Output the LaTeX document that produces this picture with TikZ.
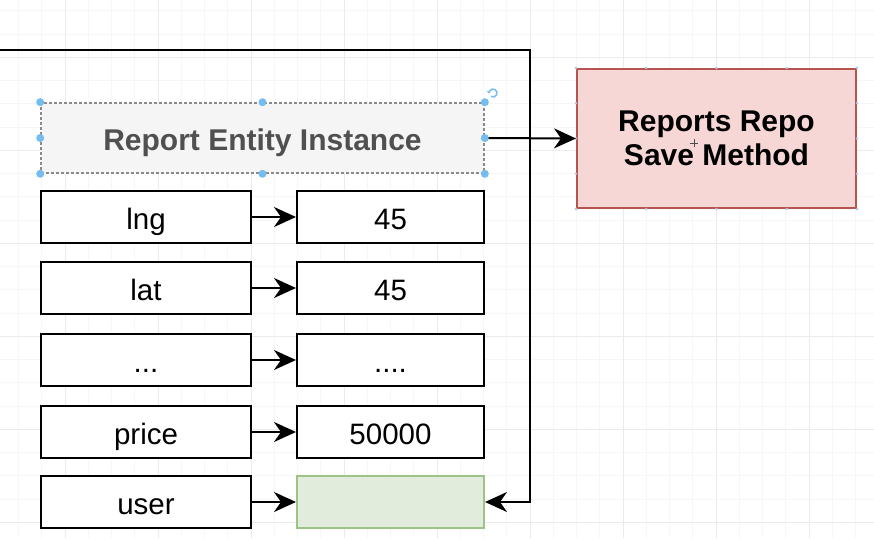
\documentclass[tikz,border=0pt]{standalone}
\usepackage{fontspec}
\setmainfont{Liberation Sans}
\usetikzlibrary{arrows.meta,calc}
\definecolor{gridminor}{HTML}{F6F6F6}
\definecolor{gridmajor}{HTML}{EBEBEB}
\definecolor{entfill}{HTML}{F5F5F5}
\definecolor{entdraw}{HTML}{8A8A8A}
\definecolor{enttext}{HTML}{505050}
\definecolor{redfill}{HTML}{F6D7D5}
\definecolor{reddraw}{HTML}{B85450}
\definecolor{greenfill}{HTML}{E2ECDC}
\definecolor{greendraw}{HTML}{9DC486}
\definecolor{handle}{HTML}{74BDEE}
\definecolor{cpoint}{HTML}{A9C8E8}
\tikzset{
  fieldbox/.style={draw=black, line width=2pt, fill=white, minimum height=52pt, inner sep=0pt,
    text height=26pt, text depth=1.4pt,
    font=\fontsize{29.5}{32}\selectfont},
  keybox/.style={fieldbox, minimum width=210pt},
  valbox/.style={fieldbox, minimum width=187pt},
  conn/.style={line width=2pt, -{Stealth[length=22pt,width=20pt,inset=7pt]}},
  dot/.style={circle, fill=handle, inner sep=0pt, minimum size=8pt},
}
\begin{document}
\begin{tikzpicture}[x=1pt,y=-1pt]
\useasboundingbox (0,0) rectangle (874,538);
% grid
\foreach \i in {0,...,38} {
  \pgfmathsetmacro\gx{18.5+23.25*\i}
  \draw[gridminor, line width=0.8pt] (\gx,0) -- (\gx,538);
}
\foreach \i in {0,...,23} {
  \pgfmathsetmacro\gy{10.8+23.25*\i}
  \draw[gridminor, line width=0.8pt] (0,\gy) -- (874,\gy);
}
\foreach \gx in {65,158,251,344,437,530,623,716,809} {
  \draw[gridmajor, line width=0.8pt] (\gx,0) -- (\gx,538);
}
\foreach \gy in {57.3,150.3,243.3,336.3,429.3,522.3} {
  \draw[gridmajor, line width=0.8pt] (0,\gy) -- (874,\gy);
}

% entity
\node[draw=entdraw, dashed, dash pattern=on 3pt off 2pt, line width=1.6pt, fill=entfill,
  minimum width=443pt, minimum height=70pt, inner sep=0pt, text height=26pt, text depth=2pt,
  text=enttext, font=\bfseries\fontsize{30}{32}\selectfont] (entity) at (262.5,138) {Report Entity Instance};

% repo
\node[draw=reddraw, line width=2pt, fill=redfill, minimum width=279pt, minimum height=139pt,
  inner sep=0pt, align=center, font=\bfseries\fontsize{30}{34}\selectfont] (repo) at (716.5,138.5)
  {Reports Repo\\Save Method};
% connection points on repo border
\foreach \t in {0,0.25,0.5,0.75,1} {
  \fill[cpoint] ($(repo.north west)!\t!(repo.north east)$) circle (1.3pt);
  \fill[cpoint] ($(repo.south west)!\t!(repo.south east)$) circle (1.3pt);
  \fill[cpoint] ($(repo.north west)!\t!(repo.south west)$) circle (1.3pt);
  \fill[cpoint] ($(repo.north east)!\t!(repo.south east)$) circle (1.3pt);
}

% fields
\node[keybox] (k1) at (146,217) {lng};
\node[valbox] (v1) at (390.5,217) {45};
\node[keybox] (k2) at (146,288) {lat};
\node[valbox] (v2) at (390.5,288) {45};
\node[keybox] (k3) at (146,360) {...};
\node[valbox] (v3) at (390.5,360) {....};
\node[keybox] (k4) at (146,432) {price};
\node[valbox] (v4) at (390.5,432) {50000};
\node[keybox] (k5) at (146,502) {user};
\node[valbox, draw=greendraw, fill=greenfill] (v5) at (390.5,502) {};

\foreach \n in {1,...,5} { \draw[conn] (k\n.east) -- (v\n.west); }

\draw[conn] (entity.east) -- (repo.west);

\coordinate (topstart) at (0,50);
\coordinate (bend) at (530,50);
\draw[conn] (topstart) -- (bend) |- (v5.east);

% selection handles
\foreach \a in {north west,north,north east,west,east,south west,south,south east} {
  \node[dot] at (entity.\a) {};
}
\draw[handle, line width=1.5pt, -{Stealth[length=3pt,width=4pt]}] (493,93) ++(120:4) arc[start angle=120, end angle=-190, radius=4];
% cursor
\draw[black!70, line width=1pt] (690,143) -- (698,143) (694,139) -- (694,147);
\end{tikzpicture}
\end{document}
